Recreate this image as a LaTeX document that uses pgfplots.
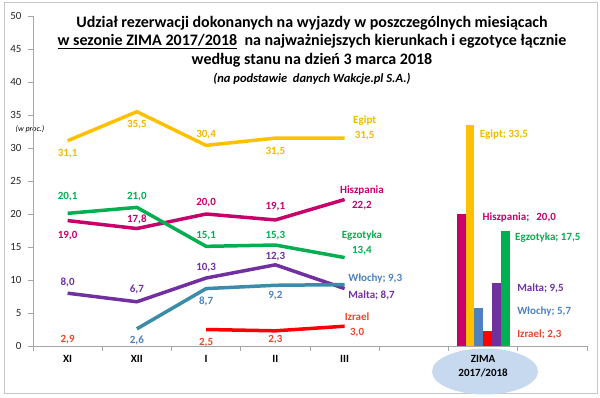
\documentclass[border=0pt]{standalone}
\usepackage{pgfplots}
\pgfplotsset{compat=1.18}
\usepackage{fontspec}
\setmainfont{Carlito}
\definecolor{egipt}{HTML}{FFC000}
\definecolor{egiptlab}{HTML}{F2B800}
\definecolor{hisz}{HTML}{C8006A}
\definecolor{egzo}{HTML}{00B050}
\definecolor{malta}{HTML}{7030A0}
\definecolor{wlochyline}{HTML}{3A8CA8}
\definecolor{wlochy}{HTML}{4F81BD}
\definecolor{izrael}{HTML}{FF0000}
\definecolor{izlab}{HTML}{E8482A}
\definecolor{zima}{HTML}{C6D9EE}
\definecolor{axgray}{HTML}{A6A6A6}
\tikzset{lab/.style={font=\bfseries\fontsize{11}{13}\selectfont, inner sep=0pt}}
\begin{document}
\begin{tikzpicture}[x=1pt,y=1pt]
\useasboundingbox (0,0) rectangle (600,397);
\draw[gray!45, line width=1pt] (4,4) rectangle (597,394);
\fill[zima] (485,25.5) ellipse [x radius=53, y radius=23];
% title
\node[font=\bfseries\fontsize{16}{18}\selectfont] at (312,374) {Udział rezerwacji dokonanych na wyjazdy w poszczególnych miesiącach};
\node[font=\bfseries\fontsize{16}{18}\selectfont] at (312,355.5) {\underline{w sezonie ZIMA 2017/2018}\ \ na najważniejszych kierunkach i egzotyce łącznie};
\node[font=\bfseries\fontsize{16}{18}\selectfont] at (312,336.5) {według stanu na dzień 3 marca 2018};
\node[font=\bfseries\itshape\fontsize{12.5}{14}\selectfont] at (312,318) {(na podstawie\ \ danych Wakcje.pl S.A.)};
\node[font=\itshape\fontsize{8}{10}\selectfont] at (30,268) {(w proc.)};
\begin{axis}[
  at={(33pt,51pt)}, anchor=south west, scale only axis,
  width=554pt, height=330pt,
  xmin=-0.5, xmax=7.5, ymin=0, ymax=50,
  axis x line=bottom, axis y line=left,
  axis line style={axgray, line width=0.8pt, -},
  tick align=outside, major tick length=5pt,
  tick style={axgray, line width=0.8pt},
  xtick={-0.5,0.5,...,7.5}, xticklabels={},
  extra x ticks={0,1,2,3,4,6},
  extra x tick labels={XI,XII,I,II,III,{ZIMA\\2017/2018}},
  extra x tick style={major tick length=0pt, tick label style={font=\bfseries\fontsize{11}{14}\selectfont, align=center, yshift=-6pt}},
  ytick={0,5,...,50},
  yticklabel style={font=\fontsize{11}{13}\selectfont, text=black!85, xshift=-3pt},
  /pgf/number format/assume math mode=true,
  clip=false,
]
% lines
\addplot[egipt, line width=3.5pt, line join=round] coordinates {(0,31.1)(1,35.5)(2,30.4)(3,31.5)(4,31.5)};
\addplot[hisz, line width=3.5pt, line join=round] coordinates {(0,19.0)(1,17.8)(2,20.0)(3,19.1)(4,22.2)};
\addplot[egzo, line width=3.5pt, line join=round] coordinates {(0,20.1)(1,21.0)(2,15.1)(3,15.3)(4,13.4)};
\addplot[malta, line width=3.5pt, line join=round] coordinates {(0,8.0)(1,6.7)(2,10.3)(3,12.3)(4,8.7)};
\addplot[wlochyline, line width=3.5pt, line join=round] coordinates {(1,2.6)(2,8.7)(3,9.2)(4,9.3)};
\addplot[izrael, line width=3.5pt, line join=round] coordinates {(2,2.5)(3,2.3)(4,3.0)};
% bars
\addplot[ybar, bar width=8.8pt, bar shift=-22pt, fill=hisz, draw=none] coordinates {(6,20.0)};
\addplot[ybar, bar width=8.8pt, bar shift=-13.2pt, fill=egipt, draw=none] coordinates {(6,33.5)};
\addplot[ybar, bar width=8.8pt, bar shift=-4.4pt, fill=wlochy, draw=none] coordinates {(6,5.7)};
\addplot[ybar, bar width=8.8pt, bar shift=4.4pt, fill=izrael, draw=none] coordinates {(6,2.3)};
\addplot[ybar, bar width=8.8pt, bar shift=13.2pt, fill=malta, draw=none] coordinates {(6,9.5)};
\addplot[ybar, bar width=8.8pt, bar shift=22pt, fill=egzo, draw=none] coordinates {(6,17.5)};
% Egipt labels
\node[lab, text=egiptlab] at (axis cs:0,29.2) {31,1};
\node[lab, text=egiptlab] at (axis cs:1,33.5) {35,5};
\node[lab, text=egiptlab] at (axis cs:2,32.1) {30,4};
\node[lab, text=egiptlab] at (axis cs:3,29.4) {31,5};
\node[lab, text=egiptlab] at (axis cs:4.29,34.2) {Egipt};
\node[lab, text=egiptlab] at (axis cs:4.29,31.8) {31,5};
% Hiszpania labels
\node[lab, text=hisz] at (axis cs:0,16.7) {19,0};
\node[lab, text=hisz] at (axis cs:1,19.1) {17,8};
\node[lab, text=hisz] at (axis cs:2,21.7) {20,0};
\node[lab, text=hisz] at (axis cs:3,21.1) {19,1};
\node[lab, text=hisz] at (axis cs:4.25,23.6) {Hiszpania};
\node[lab, text=hisz] at (axis cs:4.25,21.2) {22,2};
% Egzotyka labels
\node[lab, text=egzo] at (axis cs:0,22.6) {20,1};
\node[lab, text=egzo] at (axis cs:1,22.6) {21,0};
\node[lab, text=egzo] at (axis cs:2,16.7) {15,1};
\node[lab, text=egzo] at (axis cs:3,16.7) {15,3};
\node[lab, text=egzo] at (axis cs:4.25,16.7) {Egzotyka};
\node[lab, text=egzo] at (axis cs:4.25,14.4) {13,4};
% Malta labels
\node[lab, text=malta] at (axis cs:0,9.7) {8,0};
\node[lab, text=malta] at (axis cs:1,8.5) {6,7};
\node[lab, text=malta] at (axis cs:2,11.8) {10,3};
\node[lab, text=malta] at (axis cs:3,13.5) {12,3};
\node[lab, text=malta, anchor=west] at (axis cs:4.05,7.6) {Malta; 8,7};
% Wlochy labels
\node[lab, text=wlochy] at (axis cs:1,0.9) {2,6};
\node[lab, text=wlochy] at (axis cs:2,6.7) {8,7};
\node[lab, text=wlochy] at (axis cs:3,7.6) {9,2};
\node[lab, text=wlochy, anchor=west] at (axis cs:4.05,10.3) {Włochy; 9,3};
% Izrael labels
\node[lab, text=izlab] at (axis cs:0,0.9) {2,9};
\node[lab, text=izlab] at (axis cs:2,0.45) {2,5};
\node[lab, text=izlab] at (axis cs:3,0.9) {2,3};
\node[lab, text=izlab] at (axis cs:4.18,4.4) {Izrael};
\node[lab, text=izlab] at (axis cs:4.18,2.0) {3,0};
% bar labels
\node[lab, text=egiptlab, anchor=west] at (axis cs:5.95,32.1) {Egipt; 33,5};
\node[lab, text=hisz, anchor=west] at (axis cs:5.99,19.5) {Hiszpania;\hspace{7pt}20,0};
\node[lab, text=egzo, anchor=west] at (axis cs:6.46,16.5) {Egzotyka; 17,5};
\node[lab, text=malta, anchor=west] at (axis cs:6.49,8.8) {Malta; 9,5};
\node[lab, text=wlochy, anchor=west] at (axis cs:6.49,5.2) {Włochy; 5,7};
\node[lab, text=izlab, anchor=west] at (axis cs:6.49,1.8) {Izrael; 2,3};
\end{axis}
\end{tikzpicture}
\end{document}
